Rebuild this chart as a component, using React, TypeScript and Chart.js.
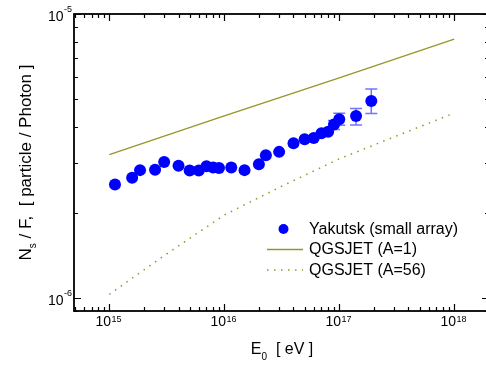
import React, { useEffect, useRef } from 'react';
import { Chart, registerables } from 'chart.js';

Chart.register(...registerables);

// Yakutsk (small array) measurements
const energy = [1.12e15, 1.58e15, 1.85e15, 2.5e15, 3e15, 4e15, 5e15, 6e15, 7e15, 8e15, 9e15, 1.15e16, 1.5e16, 2e16, 2.3e16, 3e16, 4e16, 5e16, 6e16, 7e16, 8e16, 9e16, 1e17, 1.4e17, 1.9e17];
const ratio = [2.51e-6, 2.65e-6, 2.82e-6, 2.83e-6, 3.01e-6, 2.92e-6, 2.81e-6, 2.81e-6, 2.91e-6, 2.88e-6, 2.87e-6, 2.88e-6, 2.82e-6, 2.96e-6, 3.18e-6, 3.27e-6, 3.51e-6, 3.62e-6, 3.66e-6, 3.8e-6, 3.85e-6, 4.08e-6, 4.26e-6, 4.37e-6, 4.94e-6];
const errLow: (number | null)[] = [null, null, null, null, null, null, null, null, null, null, null, null, null, null, null, null, null, null, null, null, null, 3.92e-6, 4.06e-6, 4.07e-6, 4.46e-6];
const errHigh: (number | null)[] = [null, null, null, null, null, null, null, null, null, null, null, null, null, null, null, null, null, null, null, null, null, 4.22e-6, 4.47e-6, 4.65e-6, 5.44e-6];

// QGSJET model curves
const modelEnergyA1 = [1e15, 1e16, 1e17, 1e18];
const qgsjetA1 = [3.2e-6, 4.38e-6, 5.96e-6, 8.15e-6];
const modelEnergyA56 = [1e15, 3e15, 1e16, 3e16, 1e17, 3e17, 1e18];
const qgsjetA56 = [1.03e-6, 1.41e-6, 1.96e-6, 2.45e-6, 3.09e-6, 3.69e-6, 4.48e-6];

const xDecades = [15, 16, 17, 18];
const yDecades = [-6, -5];
const legendLabels = ['Yakutsk (small array)', 'QGSJET (A=1)', 'QGSJET (A=56)'];

const FONT = '"Liberation Sans", Arial, Helvetica, sans-serif';
const OLIVE = 'rgb(150,150,40)';
const BLUE = '#0000ff';
const ERR = 'rgba(90,90,255,0.85)';
const RIGHT_EDGE = 489; // right frame lies just outside the canvas

const framePlugin = {
  id: 'frameTicks',
  beforeDatasetsDraw(chart: any) {
    const ctx = chart.ctx;
    const xs = chart.scales.x;
    const ys = chart.scales.y;
    ctx.save();
    ctx.strokeStyle = ERR;
    ctx.lineWidth = 1.5;
    for (let i = 0; i < energy.length; i++) {
      const lo = errLow[i];
      const hi = errHigh[i];
      if (lo == null || hi == null) continue;
      const px = xs.getPixelForValue(energy[i]);
      const y1 = ys.getPixelForValue(lo);
      const y2 = ys.getPixelForValue(hi);
      ctx.beginPath();
      ctx.moveTo(px, y1);
      ctx.lineTo(px, y2);
      ctx.moveTo(px - 6, y1);
      ctx.lineTo(px + 6, y1);
      ctx.moveTo(px - 6, y2);
      ctx.lineTo(px + 6, y2);
      ctx.stroke();
    }
    ctx.restore();
  },
  afterDraw(chart: any) {
    const ctx = chart.ctx;
    const { left, top, bottom } = chart.chartArea;
    const right = RIGHT_EDGE;
    const xs = chart.scales.x;
    const ys = chart.scales.y;
    ctx.save();
    ctx.strokeStyle = '#000';
    ctx.lineWidth = 1.8;
    ctx.strokeRect(left, top, right - left, bottom - top);
    ctx.lineWidth = 1.2;
    ctx.beginPath();
    // x ticks
    for (let d = 14; d <= 18; d++) {
      for (let m = 1; m <= 9; m++) {
        const v = m * Math.pow(10, d);
        if (v < xs.min || v > xs.max) continue;
        const px = Math.round(xs.getPixelForValue(v)) + 0.5;
        const len = m === 1 ? 7 : 4;
        ctx.moveTo(px, bottom);
        ctx.lineTo(px, bottom - len);
        ctx.moveTo(px, top);
        ctx.lineTo(px, top + len);
      }
    }
    // y ticks
    for (let d = -7; d <= -5; d++) {
      for (let m = 1; m <= 9; m++) {
        const v = m * Math.pow(10, d);
        if (v < ys.min * 0.999 || v > ys.max * 1.001) continue;
        const py = Math.round(ys.getPixelForValue(v)) + 0.5;
        const len = m === 1 ? 7 : 4;
        ctx.moveTo(left, py);
        ctx.lineTo(left + len, py);
        ctx.moveTo(right, py);
        ctx.lineTo(right - len, py);
      }
    }
    ctx.stroke();

    // tick labels
    ctx.fillStyle = '#000';
    ctx.textBaseline = 'alphabetic';
    const big = `14px ${FONT}`;
    const small = `9px ${FONT}`;
    for (const d of xDecades) {
      const px = xs.getPixelForValue(Math.pow(10, d));
      ctx.font = big;
      const w1 = ctx.measureText('10').width;
      ctx.font = small;
      const sup = String(d);
      const w2 = ctx.measureText(sup).width;
      const x0 = px - (w1 + w2) / 2 - 1;
      ctx.font = big;
      ctx.textAlign = 'left';
      ctx.fillText('10', x0, 326);
      ctx.font = small;
      ctx.fillText(sup, x0 + w1 + 0.5, 321.5);
    }
    for (const d of yDecades) {
      const py = ys.getPixelForValue(Math.pow(10, d));
      const sup = '-' + String(Math.abs(d));
      ctx.font = small;
      const w2 = ctx.measureText(sup).width;
      ctx.font = big;
      const w1 = ctx.measureText('10').width;
      const xr = left - 2;
      ctx.textAlign = 'left';
      ctx.fillText('10', xr - w2 - w1 - 0.5, py + 6.5);
      ctx.font = small;
      ctx.fillText(sup, xr - w2, py - 2);
    }

    // axis titles
    const sFont = `10px ${FONT}`;
    // x title
    {
      const tFont = `16px ${FONT}`;
      ctx.font = tFont;
      const a = 'E';
      const b = '  [ eV ]';
      const wa = ctx.measureText(a).width;
      const wb = ctx.measureText(b).width;
      ctx.font = sFont;
      const ws = ctx.measureText('0').width;
      const total = wa + ws + wb;
      const cx = 282;
      let x = cx - total / 2;
      const base = 354;
      ctx.font = tFont;
      ctx.fillText(a, x, base);
      x += wa;
      ctx.font = sFont;
      ctx.fillText('0', x, base + 6);
      x += ws;
      ctx.font = tFont;
      ctx.fillText(b, x, base);
    }
    // y title
    {
      const tFont = `17px ${FONT}`;
      ctx.save();
      const cy = (top + bottom) / 2;
      ctx.translate(31, cy);
      ctx.rotate(-Math.PI / 2);
      ctx.font = tFont;
      const a = 'N';
      const b = ' / F,  [ particle / Photon ]';
      const wa = ctx.measureText(a).width;
      const wb = ctx.measureText(b).width;
      ctx.font = sFont;
      const ws = ctx.measureText('s').width;
      const total = wa + ws + wb;
      let x = -total / 2;
      ctx.font = tFont;
      ctx.fillText(a, x, 0);
      x += wa;
      ctx.font = sFont;
      ctx.fillText('s', x, 5);
      x += ws;
      ctx.font = tFont;
      ctx.fillText(b, x, 0);
      ctx.restore();
    }

    // legend
    const rows = [229, 249.5, 270];
    ctx.font = `16px ${FONT}`;
    ctx.textBaseline = 'middle';
    ctx.textAlign = 'left';
    ctx.fillStyle = '#000';
    legendLabels.forEach((t, i) => ctx.fillText(t, 309, rows[i] + 0.5));
    ctx.fillStyle = BLUE;
    ctx.beginPath();
    ctx.arc(283.5, rows[0], 5, 0, Math.PI * 2);
    ctx.fill();
    ctx.strokeStyle = OLIVE;
    ctx.lineWidth = 1.3;
    ctx.beginPath();
    ctx.moveTo(267, rows[1]);
    ctx.lineTo(303, rows[1]);
    ctx.stroke();
    ctx.setLineDash([1.5, 5.5]);
    ctx.beginPath();
    ctx.moveTo(267, rows[2]);
    ctx.lineTo(303, rows[2]);
    ctx.stroke();
    ctx.restore();
  },
};

export default function App() {
  const ref = useRef<HTMLCanvasElement | null>(null);
  useEffect(() => {
    if (!ref.current) return;
    const chart = new Chart(ref.current, {
      type: 'scatter',
      data: {
        datasets: [
          {
            label: legendLabels[0],
            data: energy.map((e, i) => ({ x: e, y: ratio[i] })),
            backgroundColor: BLUE,
            borderColor: BLUE,
            pointRadius: 6,
            pointBorderWidth: 0,
            showLine: false,
          },
          {
            label: legendLabels[1],
            data: modelEnergyA1.map((e, i) => ({ x: e, y: qgsjetA1[i] })),
            borderColor: OLIVE,
            borderWidth: 1.3,
            pointRadius: 0,
            showLine: true,
            fill: false,
          },
          {
            label: legendLabels[2],
            data: modelEnergyA56.map((e, i) => ({ x: e, y: qgsjetA56[i] })),
            borderColor: OLIVE,
            borderWidth: 1.5,
            borderDash: [1.5, 5.5],
            pointRadius: 0,
            showLine: true,
            fill: false,
          },
        ],
      },
      options: {
        animation: false,
        responsive: false,
        devicePixelRatio: 1,
        layout: { autoPadding: false, padding: { left: 74, top: 14, right: 0, bottom: 55 } },
        plugins: { legend: { display: false }, tooltip: { enabled: false } },
        scales: {
          x: {
            type: 'logarithmic',
            min: 4.93e14,
            max: 1.89e18,
            ticks: { display: false },
            grid: { display: false, drawTicks: false },
            border: { display: false },
            afterFit: (s: any) => { s.height = 0; },
          },
          y: {
            type: 'logarithmic',
            min: 9e-7,
            max: 1e-5,
            ticks: { display: false },
            grid: { display: false, drawTicks: false },
            border: { display: false },
            afterFit: (s: any) => { s.width = 0; },
          },
        },
      },
      plugins: [framePlugin],
    } as any);
    return () => chart.destroy();
  }, []);
  return (
    <div style={{ position: 'fixed', left: 0, top: 0, width: 486, height: 366, background: '#fff' }}>
      <canvas ref={ref} width={486} height={366} style={{ display: 'block' }} />
    </div>
  );
}
